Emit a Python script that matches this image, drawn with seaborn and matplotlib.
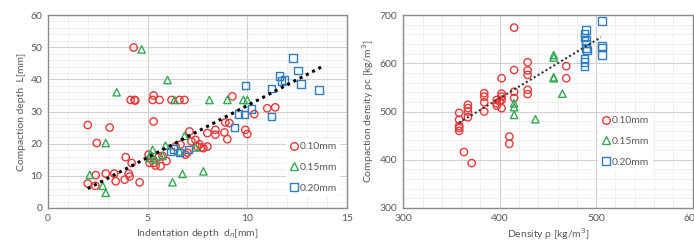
import numpy as np
import pandas as pd
import matplotlib
matplotlib.use('Agg')
import matplotlib.pyplot as plt
import seaborn as sns
from matplotlib.lines import Line2D
from matplotlib.ticker import MultipleLocator

# ==========================================
# 1. data
# ==========================================
# left panel: indentation depth vs compaction depth
l10_x = [2.0, 2.0, 2.38, 2.4, 2.45, 2.9, 3.1, 3.33, 3.4, 3.85, 3.9, 4.05, 4.1, 4.2,
         4.15, 4.35, 4.38, 4.3, 4.6, 5.3, 5.25, 5.3, 5.6, 5.05, 5.1, 5.15, 5.3, 5.4,
         5.55, 5.65, 5.75, 5.95, 6.2, 6.6, 6.85, 6.4, 6.65, 6.9, 7.1, 7.2, 7.4,
         7.5, 7.6, 7.7, 8.0, 8.0, 8.4, 8.4, 8.85, 8.9, 9.0, 9.1, 9.25, 9.9, 10.0,
         10.35, 11.0, 11.4, 7.0, 7.8]
l10_y = [7.6, 25.8, 6.9, 10.2, 20.2, 10.7, 25.0, 10.7, 8.3, 8.8, 15.8, 10.7, 9.8, 14.0,
         33.6, 33.6, 33.4, 49.9, 8.0, 35.0, 33.6, 26.9, 33.6, 16.6, 14.0, 15.5, 14.0, 13.2,
         15.8, 13.0, 16.2, 14.6, 33.6, 33.6, 33.6, 19.1, 19.7, 16.6, 23.8, 20.7, 21.2,
         19.1, 19.8, 18.8, 23.3, 19.1, 24.3, 22.8, 23.5, 26.6, 21.4, 26.4, 34.7, 24.3, 23.0,
         29.2, 31.0, 31.3, 17.2, 18.6]
l15_x = [2.1, 2.75, 2.9, 2.9, 3.45, 4.7, 5.25, 5.15, 5.1, 5.4, 5.75, 5.9, 6.0, 6.35,
         6.25, 6.75, 6.85, 7.4, 7.8, 8.1, 9.0, 9.8, 10.0, 6.6]
l15_y = [10.3, 6.9, 4.7, 20.2, 36.0, 49.3, 18.1, 16.6, 15.5, 15.0, 16.2, 19.4, 39.8, 33.6,
         8.0, 10.6, 22.4, 18.8, 11.4, 33.6, 33.6, 33.6, 33.6, 17.6]
l20_x = [6.15, 6.3, 6.6, 7.05, 9.35, 9.55, 9.85, 9.9, 10.2, 11.2, 11.2, 11.6, 11.7,
         11.85, 12.3, 12.55, 12.7, 13.6]
l20_y = [17.6, 18.3, 17.3, 18.1, 25.1, 29.2, 29.0, 38.0, 30.8, 28.4, 37.2, 41.1, 39.5,
         39.8, 46.6, 42.7, 38.6, 36.7]
left_trend_x = [2.0, 13.7]
left_trend_y = [6.0, 43.8]

# right panel: density vs compaction density
r10_x = [358, 358, 358, 358, 358, 363, 367, 367, 367, 367, 371, 384, 384, 384, 384,
         397, 397, 397, 400, 402, 402, 402, 402, 402, 410, 410, 415, 415, 415, 415,
         429, 429, 429, 429, 429, 469, 469]
r10_y = [497, 483, 470, 466, 460, 416, 514, 507, 500, 488, 393, 538, 531, 519, 500,
         524, 517, 512, 521, 569, 537, 531, 524, 507, 448, 433, 674, 586, 541, 528,
         602, 585, 576, 545, 536, 594, 569]
r15_x = [415, 415, 415, 437, 456, 456, 456, 456, 465]
r15_y = [517, 509, 493, 484, 617, 612, 571, 569, 537]
r20_x = [489.5, 488, 488, 489.5, 489.5, 489.5, 490.5, 488, 488, 488, 506, 506, 506, 506]
r20_y = [669, 662, 654, 648, 641, 631, 627, 610, 603, 593, 688, 636, 633, 617]
right_trend_x = [358, 505]
right_trend_y = [477, 654]

groups = ['0.10mm', '0.15mm', '0.20mm']
colors = ['#e8393a', '#35a956', '#2f7dc2']
markers = ['o', '^', 's']

# ==========================================
# 2. figure
# ==========================================
sns.set_theme(style='white')
plt.rcParams['font.family'] = ['Lato', 'DejaVu Sans']
text_c = '#595959'

fig = plt.figure(figsize=(6.94, 2.47), dpi=100)
ax1 = fig.add_axes([0.069, 0.158, 0.431, 0.781])
ax2 = fig.add_axes([0.581, 0.158, 0.417, 0.781])


def draw_panel(ax, series, trend_x, trend_y, trend_c, trend_lw, dash):
    for (xs, ys), g, c, m in zip(series, groups, colors, markers):
        df = pd.DataFrame({'x': xs, 'y': ys})
        sns.scatterplot(data=df, x='x', y='y', ax=ax, marker=m, s=28,
                        facecolor='none', edgecolor=c, linewidth=1.0, zorder=3)
    sns.lineplot(x=trend_x, y=trend_y, ax=ax, color=trend_c, linestyle=dash,
                 linewidth=trend_lw, zorder=4)
    ax.grid(which='major', color='#d0d0d0', linewidth=0.8)
    ax.grid(which='minor', color='#ececec', linewidth=0.6)
    ax.set_axisbelow(True)
    for sp in ax.spines.values():
        sp.set_color('#8c8c8c')
        sp.set_linewidth(1.0)
    ax.tick_params(axis='both', labelsize=7.5, colors=text_c, length=0, pad=4)
    handles = [Line2D([], [], marker=m, linestyle='none', markerfacecolor='none',
                      markeredgecolor=c, markersize=5.5, markeredgewidth=1.0)
               for c, m in zip(colors, markers)]
    return handles


h = draw_panel(ax1, [(l10_x, l10_y), (l15_x, l15_y), (l20_x, l20_y)],
               left_trend_x, left_trend_y, 'black', 2.2, (0, (1, 1.3)))
ax1.set_xlim(0, 15)
ax1.set_ylim(0, 60)
ax1.xaxis.set_major_locator(MultipleLocator(5))
ax1.xaxis.set_minor_locator(MultipleLocator(1))
ax1.yaxis.set_major_locator(MultipleLocator(10))
ax1.yaxis.set_minor_locator(MultipleLocator(2))
ax1.set_xlabel('Indentation depth  d$_n$[mm]', fontsize=7.5, color=text_c, labelpad=3)
ax1.set_ylabel('Compaction depth  L[mm]', fontsize=7.5, color=text_c, labelpad=3)
leg1 = ax1.legend(h, groups, loc='lower right', bbox_to_anchor=(0.995, 0.035),
                  fontsize=7.5, frameon=True, framealpha=1, edgecolor='none',
                  facecolor='white', handletextpad=0.05, labelspacing=1.1,
                  handlelength=1.0, borderpad=0.3)
for t in leg1.get_texts():
    t.set_color(text_c)

h = draw_panel(ax2, [(r10_x, r10_y), (r15_x, r15_y), (r20_x, r20_y)],
               right_trend_x, right_trend_y, '#333333', 1.5, (0, (1, 1.2)))
ax2.set_xlim(300, 600)
ax2.set_ylim(300, 700)
ax2.xaxis.set_major_locator(MultipleLocator(100))
ax2.xaxis.set_minor_locator(MultipleLocator(20))
ax2.yaxis.set_major_locator(MultipleLocator(100))
ax2.yaxis.set_minor_locator(MultipleLocator(20))
ax2.set_xlabel('Density ρ [kg/m$^3$]', fontsize=7.5, color=text_c, labelpad=3)
ax2.set_ylabel('Compaction density ρc [kg/m$^3$]', fontsize=7.5, color=text_c, labelpad=3)
leg2 = ax2.legend(h, groups, loc='upper left', bbox_to_anchor=(0.655, 0.52),
                  fontsize=7.5, frameon=True, framealpha=1, edgecolor='none',
                  facecolor='white', handletextpad=0.05, labelspacing=1.1,
                  handlelength=1.0, borderpad=0.3)
for t in leg2.get_texts():
    t.set_color(text_c)

fig.savefig('out.png', dpi=100)
